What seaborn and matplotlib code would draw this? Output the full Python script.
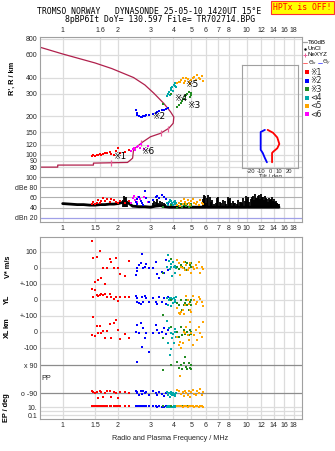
import numpy as np
import matplotlib
matplotlib.use('Agg')
import matplotlib.pyplot as plt
from matplotlib.ticker import NullLocator
import seaborn as sns

sns.set_style('white')
plt.rcParams['font.family'] = ['Liberation Sans', 'DejaVu Sans', 'Noto Sans CJK SC']

# ---------------- data ----------------
top_ticks = [1, 1.6, 2, 3, 4, 5, 6, 7, 8, 10, 12, 14, 16, 18]
mid_ticks = [1, 1.5, 2, 3, 4, 5, 6, 7, 8, 9, 10, 12, 14, 16, 18]
bot_ticks = [1, 1.5, 2, 3, 4, 5, 6, 7, 8, 10, 12, 14, 16, 18]
height_ticks = [800, 600, 400, 300, 200, 150, 120, 100, 90, 80]
db_ticks = [100, 80, 60, 40, 20]
db_labels = ['100', 'dBe 80', '60', '40', 'dBn 20']

# real-height profile (plasma frequency MHz, height km)
prof_f = [0.753, 0.94, 0.94, 1.47, 1.47, 2.25, 2.34, 2.40, 2.43, 2.71, 3.00, 3.41,
          3.78, 3.99, 4.02, 3.86, 3.55, 3.13, 2.80, 2.43, 1.85, 1.50, 1.00, 0.753]
prof_h = [80, 80, 83, 83, 86, 87, 91, 94, 110, 125, 138, 147,
          161, 176, 197, 216, 251, 302, 350, 400, 470, 520, 611, 690]
nexyz_f = [1.82, 2.68, 3.41, 3.76]
nexyz_h = [86, 124, 147, 159]

# tilt profile
tx_deg = [-2.5, 3.3, 7.8, 10, 7.8, 3.3, 2.2, 2.2]
tx_h = [156, 148, 136, 121, 112, 105, 103, 87]
ty_deg = [-5.5, -10, -10, -10, -7.8, -5.5, -3.3]
ty_h = [156, 150, 137, 109, 103, 94, 87]

# cluster 1 (red)
c1_f = [1.44, 1.47, 1.50, 1.53, 1.56, 1.59, 1.61, 1.65, 1.70, 1.74, 1.80, 1.84, 1.90, 1.96, 2.00, 2.05, 2.17, 2.30]
c1_h = [98, 99, 98, 100, 99, 101, 100, 102, 104, 103, 105, 101, 100, 106, 113, 103, 105, 108]
c1_db = [48, 52, 47, 50, 55, 50, 53, 58, 54, 56, 51, 57, 55, 52, 50, 54, 49, 53]
c1_v = [169, 60, -85, 71, -75, 108, -60, 0, -102, 2, 54, 40, 2, 65, 2, -40, -48, 44]
c1_yl = [69, 21, 62, 31, 25, 31, 40, 31, 36, 21, 36, 21, 6, 21, -6, 17, 17, 17]
c1_xl = [-19, 92, -25, 40, -4, 40, -4, 8, -40, 8, 48, -35, 54, 75, 12, -46, -15, -35]
c1_pp = [-77, -82, -92, -82, -120, -77, -82, -114, -92, -77, -77, -114, -82, -92, -124, -82, -82, -92]
c1_ep = [17, 17, 17, 17, 17, 17, 17, 17, 15, 17, 17, 17, 17, 17, 17, 17, 15, 17]

# cluster 2 (blue)
c2_f = [2.50, 2.52, 2.55, 2.60, 2.65, 2.71, 2.74, 2.80, 2.85, 2.94, 3.10, 3.20, 3.27, 3.35, 3.45, 3.55, 3.65, 3.72]
c2_h = [222, 212, 205, 200, 198, 197, 199, 200, 203, 205, 206, 212, 215, 218, 222, 224, 228, 232]
c2_db = [52, 48, 56, 60, 54, 50, 46, 73, 58, 52, 55, 60, 62, 58, 64, 60, 56, 50]
c2_v = [-44, -19, -2, 19, 29, 85, -2, 8, 25, -2, -2, 35, -40, -65, -23, -33, 50, -12]
c2_yl = [25, -11, 11, -21, -25, 21, -11, 25, 15, -11, 15, -11, -27, 21, -11, 11, -27, 21]
c2_xl = [2, -190, 44, -8, 54, -96, 27, -40, -8, -123, -8, 44, 12, -8, 2, 23, -15, 12]
c2_pp = [-77, -90, -85, -103, -80, -95, -77, -90, -85, -100, -80, -92, -103, -85, -95, -110, -90, -100]
c2_ep = [17, 17, 17, 15, 17, 17, 17, 15, 17, 17, 15, 17, 12, 17, 10, 12, 17, 10]

# cluster 3 (green)
c3_f = [3.50, 3.86, 4.20, 4.30, 4.39, 4.45, 4.55, 4.62, 4.66, 4.75, 4.85, 4.90, 4.96, 5.00]
c3_h = [250, 300, 235, 245, 255, 262, 270, 285, 295, 300, 310, 280, 290, 305]
c3_db = [42, 45, 40, 44, 48, 42, 46, 50, 44, 47, 42, 45, 48, 43]
c3_v = [-29, 56, 8, -8, 19, 8, -2, 40, -12, 29, -2, 19, 29, 8]
c3_yl = [-94, 0, -21, -31, 0, -62, -31, -21, 0, -31, -62, -10, -31, 0]
c3_xl = [-40, 33, 2, -29, 33, -19, 12, -15, 33, 2, -19, 12, -15, 2]
c3_pp = [58, 90, 111, 69, 90, 62, 101, 143, 75, 62, 101, 69, 62, 90]
c3_ep = [17, 15, 17, 17, 15, 17, 17, 17, 15, 17, 17, 17, 15, 17]

# cluster 4 (teal)
c4_f = [3.70, 3.74, 3.78, 3.82, 3.86, 3.90, 3.95, 3.98, 4.02, 4.06, 4.10, 4.15]
c4_h = [285, 300, 310, 295, 320, 330, 340, 315, 350, 345, 360, 335]
c4_db = [50, 46, 52, 55, 48, 53, 50, 45, 52, 54, 48, 50]
c4_v = [8, 81, 44, -8, 23, 8, -48, 40, 8, -29, 15, 0]
c4_yl = [11, -31, 0, 15, -36, 11, 5, -20, 15, 0, -10, 20]
c4_xl = [69, -71, 27, -146, -8, -108, -40, -15, -71, 2, 20, -30]
c4_pp = [-85, -100, -90, -115, -95, -85, -105, -90, -100, -95, -110, -88]
c4_ep = [12, 17, 10, 15, 12, 17, 10, 12, 17, 10, 12, 15]

# cluster 5 (orange)
c5_f = [4.20, 4.30, 4.40, 4.50, 4.55, 4.62, 4.70, 4.78, 4.85, 4.92, 5.00, 5.10, 5.20, 5.30, 5.40, 5.50, 5.60, 5.70, 5.80, 4.35]
c5_h = [360, 370, 380, 395, 365, 375, 400, 390, 370, 355, 385, 395, 405, 380, 420, 400, 390, 410, 378, 372]
c5_db = [45, 50, 53, 48, 56, 52, 47, 55, 50, 45, 53, 57, 50, 48, 52, 46, 55, 50, 48, 44]
c5_v = [50, 29, 8, -2, 40, -12, 19, -12, -2, 29, -29, 8, -6, 19, -2, 40, -29, 8, -6, -45]
c5_yl = [-52, -83, -73, -62, -90, -31, 25, 0, -25, -62, -73, 25, 0, -25, -10, 20, 5, -15, -40, -90]
c5_xl = [-29, -81, -102, -71, 2, -8, 33, -19, -50, 60, -4, -81, -19, 12, -50, 33, -4, -30, 60, -60]
c5_pp = [-70, -80, -95, -85, -110, -75, -90, -100, -80, -115, -85, -70, -95, -105, -80, -90, -64, -100, -85, 21]
c5_ep = [17, 15, 17, 12, 17, 15, 17, 12, 17, 15, 17, 17, 12, 15, 17, 12, 15, 17, 12, 17]

# cluster 6 (magenta)
c6_f = [2.36, 2.40, 2.44, 2.48, 2.52, 2.57, 2.62, 2.68, 2.76, 2.90]
c6_h = [106, 110, 113, 108, 115, 118, 112, 121, 110, 116]
c6_db = [50, 58, 62, 55, 52, 60, 57, 54, 60, 52]

# noise level (dB) and interference spikes
noise_f = [1.0, 1.1, 1.2, 1.3, 1.4, 1.5, 1.6, 1.7, 1.8, 1.9, 2.0, 2.1, 2.2, 2.3, 2.4, 2.6, 2.8, 3.0,
           3.2, 3.4, 3.6, 3.8, 4.0, 4.5, 5.0, 5.5, 6.0, 7.0, 8.0, 9.0, 10.0, 11.0, 12.0, 13.0, 14.0, 15.0]
noise_db = [48, 47, 46, 46, 45, 45, 46, 46, 47, 47, 48, 50, 52, 48, 43, 42, 42, 41,
            43, 44, 42, 41, 41, 41, 41, 41, 41, 41, 41, 41, 41, 41, 41, 41, 41, 41]
spike_f = [2.12, 2.15, 2.18, 2.2, 2.24, 3.1, 3.15, 3.2, 3.25, 3.3, 3.4, 3.48, 3.55, 3.62,
           5.8, 5.85, 5.9, 5.95, 6.05, 6.1, 6.2, 6.3, 6.4, 6.5, 6.65, 6.8, 6.9, 7.0, 7.15, 7.3,
           7.45, 7.6, 7.75, 7.9, 8.0, 8.1, 8.25, 8.4, 8.55, 8.7, 8.85, 9.0, 9.15, 9.3, 9.45,
           9.6, 9.75, 9.9, 10.05, 10.2, 10.35, 10.5, 10.65, 10.8, 10.95, 11.1, 11.25, 11.4,
           11.55, 11.7, 11.85, 12.0, 12.15, 12.3, 12.45, 12.6, 12.75, 12.9, 13.05, 13.2,
           13.35, 13.5, 13.65, 13.8, 13.95, 14.1, 14.25, 14.4, 14.55, 14.7, 14.85, 15.0]
spike_db = [55, 62, 58, 60, 52, 50, 54, 52, 56, 50, 54, 52, 50, 48,
            56, 60, 65, 62, 50, 58, 64, 60, 52, 55, 48, 50, 58, 60, 52, 50,
            55, 53, 48, 61, 56, 58, 50, 54, 49, 50, 47, 55, 51, 52, 49,
            58, 54, 63, 57, 60, 52, 56, 61, 62, 55, 66, 59, 58,
            63, 64, 57, 67, 60, 60, 55, 63, 58, 56, 52, 58,
            55, 52, 57, 60, 54, 57, 52, 54, 50, 50, 48, 47]

# ---------------- style ----------------
RED, BLUE, GREEN, TEAL, ORANGE, MAG = '#ff0000', '#0000ff', '#228b22', '#00a8a8', '#ffa500', '#ff00ff'
PROF = '#b0204c'
PINK = '#e8609a'
GRID = '#dcdcdc'
SPINE = '#a0a0a0'
TFS = 5.0

W, H = 335, 451
fig = plt.figure(figsize=(W / 100, H / 100), dpi=100)


def box(x0, y0, x1, y1):
    return [x0 / W, 1 - y1 / H, (x1 - x0) / W, (y1 - y0) / H]


FMIN, FMAX = 0.753, 20.0


def freq_axis(ax, ticks, where):
    ax.set_xscale('log')
    ax.set_xlim(FMIN, FMAX)
    ax.set_xticks(ticks)
    ax.xaxis.set_minor_locator(NullLocator())
    if where == 'top':
        ax.xaxis.tick_top()
        ax.set_xticklabels([f'{t:g}' for t in ticks])
    elif where == 'bottom':
        ax.set_xticklabels([f'{t:g}' for t in ticks])
    else:
        ax.set_xticklabels([])
    ax.tick_params(axis='both', length=0, labelsize=TFS, pad=2)
    for s in ax.spines.values():
        s.set_color(SPINE)
        s.set_linewidth(0.8)
    for t in ticks:
        ax.axvline(t, color=GRID, lw=0.9, zorder=0)


def sq(ax, x, y, c):
    sns.scatterplot(x=x, y=y, ax=ax, color=c, marker='s', s=4, linewidth=0, legend=False, zorder=3)


# ---------------- top panel: heights ----------------
ax1 = fig.add_axes(box(40, 37, 302, 177))
freq_axis(ax1, top_ticks, 'top')
ax1.set_yscale('log')
ax1.set_ylim(67, 829)
ax1.set_yticks(height_ticks)
ax1.yaxis.set_minor_locator(NullLocator())
ax1.set_yticklabels([str(t) for t in height_ticks])
for t in height_ticks:
    ax1.axhline(t, color=GRID, lw=0.9, zorder=0)

sns.lineplot(x=prof_f, y=prof_h, sort=False, estimator=None, ax=ax1, color=PROF, lw=0.9, zorder=2)
sns.scatterplot(x=nexyz_f, y=nexyz_h, ax=ax1, color=PINK, marker='|', s=14, linewidth=0.9, legend=False, zorder=2)

for f, h, c in [(c1_f, c1_h, RED), (c6_f, c6_h, MAG), (c2_f, c2_h, BLUE), (c4_f, c4_h, TEAL),
                (c3_f, c3_h, GREEN), (c5_f, c5_h, ORANGE)]:
    sq(ax1, f, h, c)

lab_kw = dict(fontsize=6.5, color='black', ha='left', va='center', zorder=5,
              family=['DejaVu Sans', 'Noto Sans CJK SC'])
ax1.text(1.88, 96, '※1', **lab_kw)
ax1.text(3.08, 198, '※2', **lab_kw)
ax1.text(4.75, 244, '※3', **lab_kw)
ax1.text(4.02, 276, '※4', **lab_kw)
ax1.text(4.65, 350, '※5', **lab_kw)
ax1.text(2.66, 106, '※6', **lab_kw)

# inset: tilt
axi = fig.add_axes(box(242, 65, 298, 168))
axi.patch.set_alpha(0)
axi.set_xlim(-30, 30)
axi.set_yscale('log')
axi.set_ylim(78.5, 502)
axi.set_yticks([])
axi.yaxis.set_minor_locator(NullLocator())
axi.set_xticks([-20, -10, 0, 10, 20])
axi.set_xticklabels(['-20', '-10', '0', '10', '20'])
axi.tick_params(length=0, labelsize=4.2, pad=1)
axi.set_xlabel('Tilt / deg', fontsize=4.3, labelpad=0)
for s in axi.spines.values():
    s.set_color(SPINE)
    s.set_linewidth(0.8)
sns.lineplot(x=tx_deg, y=tx_h, sort=False, estimator=None, ax=axi, color=RED, lw=1.3)
sns.lineplot(x=ty_deg, y=ty_h, sort=False, estimator=None, ax=axi, color=BLUE, lw=1.3)

# ---------------- dB panel ----------------
ax2 = fig.add_axes(box(40, 177, 302, 222))
freq_axis(ax2, mid_ticks, 'bottom')
ax2.set_ylim(12, 100)
ax2.set_yticks(db_ticks)
ax2.set_yticklabels(db_labels)
for t in [100, 80, 60, 40]:
    ax2.axhline(t, color='#b0b0b0', lw=0.8, zorder=0)
ax2.axhline(20, color='#a0a0e8', lw=0.9, zorder=0)
ax2.vlines(spike_f, 41, spike_db, color='black', lw=1.3, zorder=2)
sns.lineplot(x=noise_f, y=noise_db, ax=ax2, color='black', lw=2.0, zorder=2)
for f, d, c in [(c1_f, c1_db, RED), (c6_f, c6_db, MAG), (c2_f, c2_db, BLUE), (c4_f, c4_db, TEAL),
                (c3_f, c3_db, GREEN), (c5_f, c5_db, ORANGE)]:
    sq(ax2, f, d, c)

# ---------------- parameter panel ----------------
ax3 = fig.add_axes(box(40, 237, 302, 419))
freq_axis(ax3, bot_ticks, 'bottom')
ax3.set_ylim(-943.75, 193.75)
PP0, PPS = -693.75, 87.5 / 90
EP0, EPS = -868.75, 25.0
row_ticks = [100, 0, -100, -200, -300, -400, -500, PP0 + 90 * PPS, PP0 - 90 * PPS, EP0, EP0 - 2 * EPS]
row_labels = ['100', '0', '+-100', '0', '+-100', '0', '-100', 'x 90', 'o -90', '10.', '0.1']
ax3.set_yticks(row_ticks)
ax3.set_yticklabels(row_labels)
for t in [100, 0, -100, -200, -300, -400, -500, EP0, EP0 - EPS, EP0 - 2 * EPS]:
    ax3.axhline(t, color=GRID, lw=0.9, zorder=0)
for t in [PP0 + 90 * PPS, PP0 - 90 * PPS]:
    ax3.axhline(t, color='#8c8c8c', lw=0.9, zorder=0)

for f, v, yl, xl, pp, ep, c in [(c1_f, c1_v, c1_yl, c1_xl, c1_pp, c1_ep, RED),
                                (c2_f, c2_v, c2_yl, c2_xl, c2_pp, c2_ep, BLUE),
                                (c4_f, c4_v, c4_yl, c4_xl, c4_pp, c4_ep, TEAL),
                                (c3_f, c3_v, c3_yl, c3_xl, c3_pp, c3_ep, GREEN),
                                (c5_f, c5_v, c5_yl, c5_xl, c5_pp, c5_ep, ORANGE)]:
    ys = np.concatenate([np.asarray(v, float),
                         np.asarray(yl, float) - 200,
                         np.asarray(xl, float) - 400,
                         PP0 + np.asarray(pp, float) * PPS,
                         EP0 + (np.log10(np.asarray(ep, float)) - 1) * EPS])
    xs = np.tile(np.asarray(f, float), 5)
    sq(ax3, xs, ys, c)

# ---------------- overlay: titles, labels, legend ----------------
ov = fig.add_axes([0, 0, 1, 1])
ov.set_xlim(0, W)
ov.set_ylim(H, 0)
ov.axis('off')
ov.patch.set_alpha(0)

mono = dict(family='DejaVu Sans Mono', fontsize=5.9, color='black', ha='center', va='center')
ov.text(149, 11, 'TROMSO NORWAY   DYNASONDE 25-05-10 1420UT 15°E', **mono)
ov.text(160, 20, '8pBP6It DoY= 130.597 File= TR702714.BPG', **mono)
ov.text(302.5, 7.5, 'HPTx is OFF!', family='DejaVu Sans Mono', fontsize=5.9, color='red',
        ha='center', va='center',
        bbox=dict(facecolor='#ffff00', edgecolor='#ff3030', linewidth=0.8, boxstyle='square,pad=0.25'))

ylab = dict(fontsize=5.3, fontweight='bold', rotation=90, ha='center', va='center', color='black')
ov.text(12, 78, "R', R / km", **ylab)
ov.text(8, 267, 'V* m/s', **ylab)
ov.text(7, 299, 'YL', **ylab)
ov.text(7, 323, 'km', **ylab)
ov.text(7, 333, 'XL', **ylab)
ov.text(6, 408, 'EP / deg', **ylab)
ov.text(46, 379, 'PP', fontsize=5.2, ha='center', va='center')
ov.text(170, 439, 'Radio and Plasma Frequency / MHz', fontsize=5.2, ha='center', va='center')

leg = dict(fontsize=4.4, ha='left', va='center', color='black')
ov.plot([303, 307], [42, 42], color='#a0a0a0', lw=0.9)
ov.text(308, 42, 'T60dB', **leg)
ov.plot([305], [48.5], marker='.', color='black', ms=1.5)
ov.text(308, 48.5, 'UnCl', **leg)
ov.plot([305], [55], marker='+', color=PINK, ms=3, mew=0.7)
ov.text(308, 55, 'NeXYZ', **leg)
ov.plot([303, 307], [62.5, 62.5], color=RED, lw=0.6, alpha=0.7)
ov.text(307.5, 62.5, r'$\Theta_x$', fontsize=4.2, ha='left', va='center')
ov.plot([318, 322], [62.5, 62.5], color=BLUE, lw=0.6, alpha=0.7)
ov.text(322.5, 62.5, r'$\Theta_y$', fontsize=4.2, ha='left', va='center')
sym = ['※1', '※2', '※3', '⊲4', '⊲5', '⊲6']
cols = [RED, BLUE, GREEN, TEAL, ORANGE, MAG]
ys_leg = [72.3, 80.7, 89.3, 98.0, 106.0, 114.3]
for s_, c_, y_ in zip(sym, cols, ys_leg):
    ov.plot([307], [y_], marker='s', color=c_, ms=2.2, mew=0)
    ov.text(310.5, y_, s_, fontsize=5.6, ha='left', va='center', family=['DejaVu Sans', 'Noto Sans CJK SC'])

fig.savefig('out.png', dpi=100)
